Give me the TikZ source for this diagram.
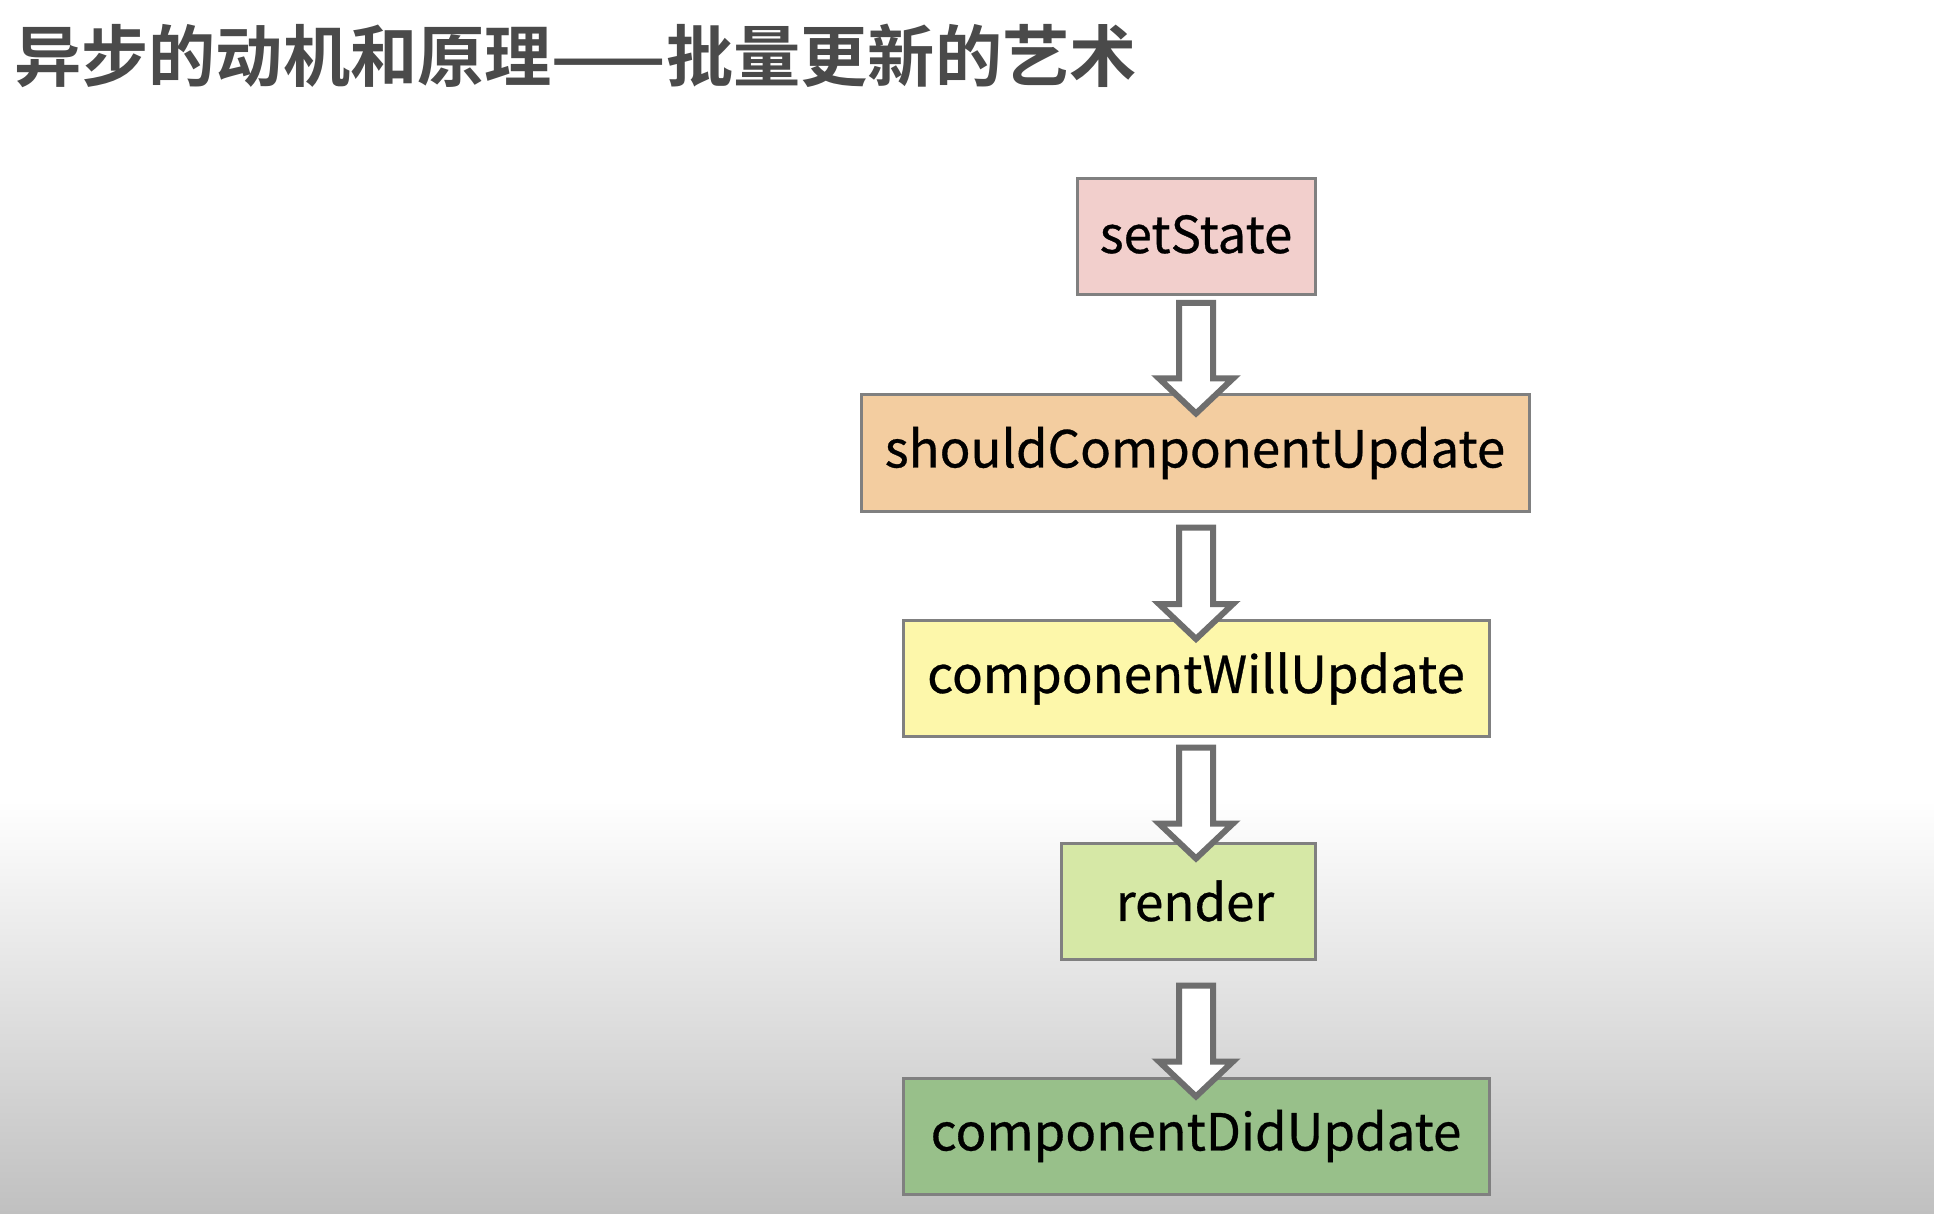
\documentclass[tikz,border=0pt]{standalone}
\usepackage{fontspec}
\setmainfont{Noto Sans CJK SC}
\newfontfamily\titlefont{Noto Sans CJK SC}[BoldFont={* Bold}]
\newfontfamily\labelfont{Noto Sans CJK SC}[FakeBold=0.6]
\usetikzlibrary{calc}
\definecolor{boxline}{RGB}{128,128,128}
\definecolor{arrowline}{RGB}{110,110,110}
\definecolor{cpink}{RGB}{242,207,204}
\definecolor{corange}{RGB}{243,205,160}
\definecolor{cyellow}{RGB}{253,247,170}
\definecolor{clgreen}{RGB}{214,232,166}
\definecolor{cgreen}{RGB}{152,192,138}
\definecolor{titlegray}{RGB}{74,74,74}
\definecolor{bgbottom}{RGB}{192,192,192}
\tikzset{
  stepbox/.style={draw=boxline, line width=1.5pt, rectangle, inner sep=0pt,
    minimum height=58pt, font=\labelfont\fontsize{25.5}{30}\selectfont, text=black},
  blockarrow/.style={draw=arrowline, fill=white, line width=3pt, line join=miter},
}
% #1 source, #2 target, #3 gap below source (px), #4 tip overlap into target (px)
\newcommand\flowarrow[4]{%
  \draw[blockarrow] let \p0=(col), \p1=($(#1.south)+(0,#3)$), \p2=($(#2.north)+(0,#4)$) in
    (\x0-8.5pt,\y1) -- (\x0+8.5pt,\y1) -- (\x0+8.5pt,\y2+17.5pt) -- (\x0+18.5pt,\y2+17.5pt)
    -- (\x0,\y2) -- (\x0-18.5pt,\y2+17.5pt) -- (\x0-8.5pt,\y2+17.5pt) -- cycle;}
\begin{document}
\begin{tikzpicture}[x=0.5pt,y=-0.5pt]
\useasboundingbox (0,0) rectangle (1934,1214);
\fill[white] (0,0) rectangle (1934,800);
\fill[top color=white, bottom color=bgbottom] (0,800) rectangle (1934,1214);
\coordinate (col) at (1196,0);
\node[anchor=west, text=titlegray, font=\titlefont\bfseries\fontsize{33.6}{40}\selectfont, inner sep=0pt] (title) at (14,56) {异步的动机和原理——批量更新的艺术};
\node[stepbox, fill=cpink, minimum width=119pt] (ss) at (1196,236.5) {\raisebox{2.5pt}{setState}};
\node[stepbox, fill=corange, minimum width=334pt] (scu) at (1195,453) {shouldComponentUpdate};
\node[stepbox, fill=cyellow, minimum width=293pt] (cwu) at (1196,678.5) {componentWillUpdate};
\node[stepbox, fill=clgreen, minimum width=127pt] (rd) at (1188,901) {\hspace*{7pt}render};
\node[stepbox, fill=cgreen, minimum width=293pt] (cdu) at (1196,1136) {componentDidUpdate};
\flowarrow{ss}{scu}{7}{20}
\flowarrow{scu}{cwu}{15}{20}
\flowarrow{cwu}{rd}{9.5}{17}
\flowarrow{rd}{cdu}{25}{20}
\end{tikzpicture}
\end{document}
